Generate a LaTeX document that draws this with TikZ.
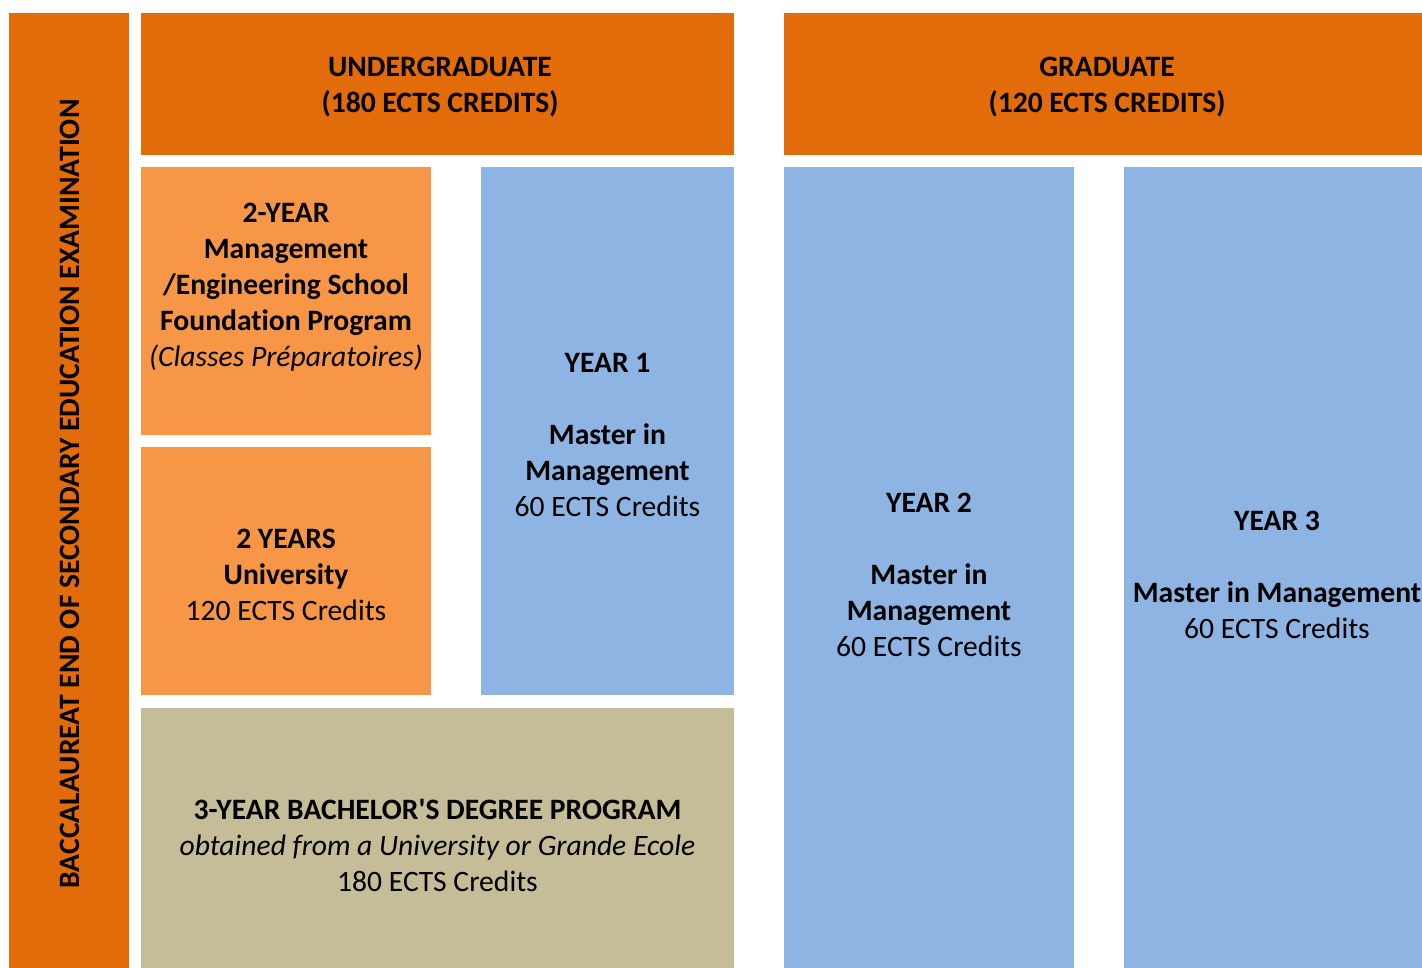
\documentclass[tikz,border=0pt]{standalone}
\usepackage{fontspec}
\setmainfont{Carlito}[Ligatures={TeXOff,NoCommon}]
\definecolor{darkor}{HTML}{E26B0A}
\definecolor{lightor}{HTML}{F79646}
\definecolor{bluebox}{HTML}{8EB4E3}
\definecolor{tanbox}{HTML}{C4BD97}
\tikzset{
  lbl/.style={align=center, inner sep=0pt, text=black, font=\fontsize{22.2}{27}\selectfont},
}
\begin{document}
\begin{tikzpicture}[x=0.75pt,y=-0.75pt]
\clip (0,0) rectangle (1422,968);
\useasboundingbox (0,0) rectangle (1422,968);
% boxes
\fill[darkor] (9,13) rectangle (129,980);
\fill[darkor] (141,13) rectangle (734,155);
\fill[darkor] (784,13) rectangle (1432,155);
\fill[lightor] (141,167) rectangle (431,435);
\fill[lightor] (141,447) rectangle (431,695);
\fill[bluebox] (481,167) rectangle (734,695);
\fill[tanbox] (141,708) rectangle (734,978);
\fill[bluebox] (784,167) rectangle (1074,978);
\fill[bluebox] (1124,167) rectangle (1432,978);
% texts
\node[lbl, rotate=90] (bac) at (70,494) {\textbf{BACCALAUREAT END OF SECONDARY EDUCATION EXAMINATION}};
\node[lbl] (ug) at (440,87.5) {\textbf{UNDERGRADUATE}\\\textbf{(180 ECTS CREDITS)}};
\node[lbl] (gr) at (1107,87.5) {\textbf{GRADUATE}\\\textbf{(120 ECTS CREDITS)}};
\node[lbl] (prep) at (286,287) {\textbf{2-YEAR}\\\textbf{Management}\\\textbf{/Engineering School}\\\textbf{Foundation Program}\\\textit{(Classes Préparatoires)}};
\node[lbl] (univ) at (286,575) {\textbf{2 YEARS}\\\textbf{University}\\120 ECTS Credits};
\node[lbl] (y1) at (607.5,435) {\textbf{YEAR 1}\\[27pt]\textbf{Master in}\\\textbf{Management}\\60 ECTS Credits};
\node[lbl] (bach) at (437.5,845) {\textbf{3-YEAR BACHELOR'S DEGREE PROGRAM}\\\textit{obtained from a University or Grande Ecole}\\180 ECTS Credits};
\node[lbl] (y2) at (929,574.5) {\textbf{YEAR 2}\\[27pt]\textbf{Master in}\\\textbf{Management}\\60 ECTS Credits};
\node[lbl] (y3) at (1277,574.5) {\textbf{YEAR 3}\\[27pt]\textbf{Master in Management}\\60 ECTS Credits};
\end{tikzpicture}
\end{document}
